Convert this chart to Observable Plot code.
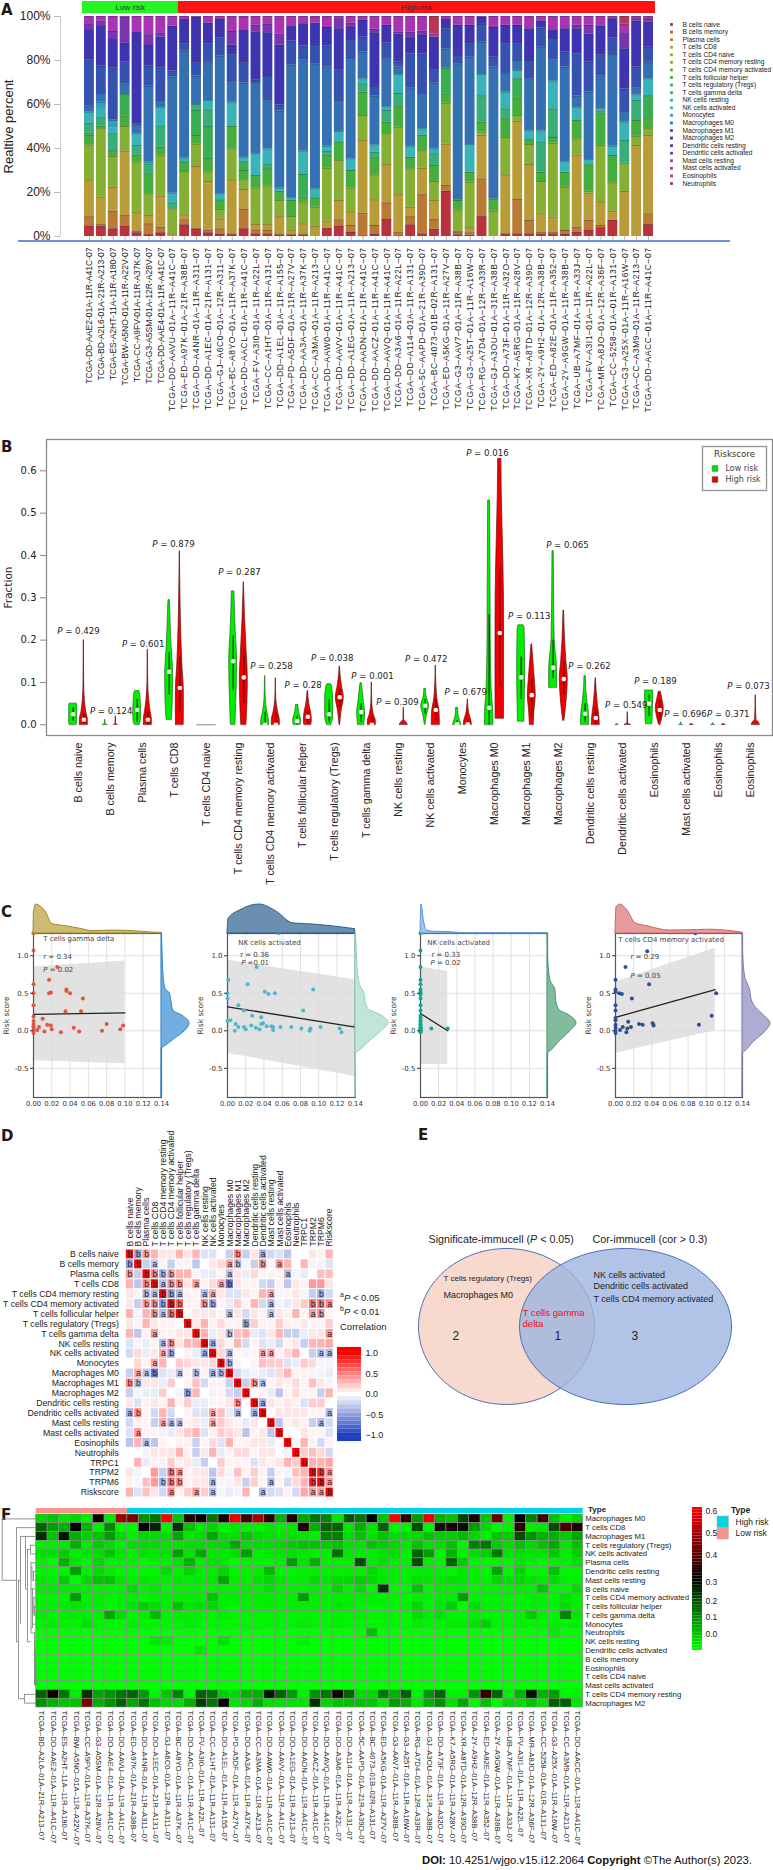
<!DOCTYPE html>
<html><head><meta charset="utf-8">
<script src="https://cdn.jsdelivr.net/npm/d3@7"></script>
<script src="https://cdn.jsdelivr.net/npm/@observablehq/plot@0.6"></script>
<style>
html,body{margin:0;padding:0;background:#fff}
#page{position:relative;width:773px;height:1870px;overflow:hidden;font-family:"Liberation Sans",Arial,sans-serif;color:#222}
#page svg{position:absolute;background:transparent;overflow:visible}
.note{position:absolute;white-space:nowrap}
.letter{position:absolute;font:bold 15px "DejaVu Sans",sans-serif;color:#231815}
</style></head><body><div id="page"></div>
<script>
const FONT='"Liberation Sans",Arial,sans-serif';
// ---------- shared categories
const immuneCells=["B cells naive","B cells memory","Plasma cells","T cells CD8","T cells CD4 naive","T cells CD4 memory resting","T cells CD4 memory activated","T cells follicular helper","T cells regulatory (Tregs)","T cells gamma delta","NK cells resting","NK cells activated","Monocytes","Macrophages M0","Macrophages M1","Macrophages M2","Dendritic cells resting","Dendritic cells activated","Mast cells resting","Mast cells activated","Eosinophils","Neutrophils"];
const cellColors=["#b8333b","#bf5a2e","#b97a35","#b89c38","#a5ab30","#86b034","#62b03a","#45ae3e","#3aae52","#3aae78","#38b19a","#38b3b8","#3a9cc2","#3570b2","#3552b0","#3e34b0","#5a36b0","#7a34b0","#a735b2","#b7359f","#b83578","#b83555"];
const barLabels=["TCGA-DD-AAE2-01A-11R-A41C-07","TCGA-BD-A2L6-01A-21R-A213-07","TCGA-ES-A2HT-11A-11R-A180-07","TCGA-BW-A5NO-01A-11R-A22V-07","TCGA-CC-A9FV-01A-11R-A37K-07","TCGA-G3-A5SM-01A-12R-A28V-07","TCGA-DD-AAE4-01A-11R-A41C-07","TCGA-DD-AAVU-01A-11R-A41C-07","TCGA-ED-A97K-01A-21R-A38B-07","TCGA-DD-A4NR-01A-11R-A311-07","TCGA-DD-A1EC-01A-21R-A131-07","TCGA-GJ-A6C0-01A-12R-A311-07","TCGA-BC-A8YO-01A-11R-A37K-07","TCGA-DD-AACL-01A-11R-A41C-07","TCGA-FV-A3I0-01A-11R-A22L-07","TCGA-CC-A1HT-01A-11R-A131-07","TCGA-DD-A1EL-01A-11R-A155-07","TCGA-PD-A5DF-01A-11R-A27V-07","TCGA-DD-AA3A-01A-11R-A37K-07","TCGA-CC-A3MA-01A-11R-A213-07","TCGA-DD-AAW0-01A-11R-A41C-07","TCGA-DD-AAVV-01A-11R-A41C-07","TCGA-DD-A1EG-01A-11R-A213-07","TCGA-DD-AADN-01A-11R-A41C-07","TCGA-DD-AACZ-01A-11R-A41C-07","TCGA-DD-AAVQ-01A-11R-A41C-07","TCGA-DD-A3A6-01A-11R-A22L-07","TCGA-DD-A114-01A-11R-A131-07","TCGA-5C-AAPD-01A-21R-A39D-07","TCGA-BC-4073-01B-02R-A131-07","TCGA-ED-A5KG-01A-11R-A27V-07","TCGA-G3-AAV7-01A-11R-A38B-07","TCGA-G3-A25T-01A-11R-A16W-07","TCGA-RG-A7D4-01A-12R-A33R-07","TCGA-GJ-A3OU-01A-31R-A38B-07","TCGA-DD-A73F-01A-11R-A32O-07","TCGA-K7-A5RG-01A-11R-A28V-07","TCGA-XR-A8TD-01A-12R-A39D-07","TCGA-2Y-A9H2-01A-12R-A38B-07","TCGA-ED-A82E-01A-11R-A352-07","TCGA-2Y-A9GW-01A-11R-A38B-07","TCGA-UB-A7MF-01A-11R-A33J-07","TCGA-FV-A3I1-01A-11R-A22L-07","TCGA-MR-A8JO-01A-12R-A36F-07","TCGA-CC-5258-01A-01R-A131-07","TCGA-G3-A25X-01A-11R-A16W-07","TCGA-CC-A3M9-01A-11R-A213-07","TCGA-DD-AACC-01A-11R-A41C-07"];
const riskGroupsA=[{name:"Low risk",from:0,to:8,fill:"#23f523"},{name:"High risk",from:8,to:48,fill:"#fb1414"}];
// Panel A: per bar, flat pairs of category index and cumulative top (percent)
const barTops=[
[0,4.8,2,9,3,25.8,5,41.6,7,46,8,47,9,51.5,11,56.5,13,59.2,14,80.3,15,94,17,96.7,18,100],
[0,4.5,2,5.4,3,17.9,5,49,7,50.2,9,54,11,58.5,12,61,13,65,14,77.4,15,95.8,17,98,18,100],
[0,3.5,2,11.5,3,22.4,5,36.4,7,39,9,46.7,11,50.4,12,52.8,13,53,14,76.5,15,89.5,17,93.2,18,100],
[0,4.8,2,9.5,3,38.8,5,50,7,54.8,8,64.5,13,69.4,14,79.4,15,88,17,99.7,18,100],
[0,1.7,2,2.5,3,10.8,5,33.8,7,37,9,41.4,11,46.7,13,50.8,14,51,15,93,18,100],
[0,.8,2,5.8,3,9.5,5,19.4,7,28.5,9,33,11,33.8,13,68.3,14,77.4,15,86.8,17,91.7,18,100],
[0,1.7,2,4.2,3,18.3,5,37,7,40.6,9,50.3,11,58.5,13,61.8,14,76.5,15,90.6,17,92.6,18,100],
[3,1.2,5,12.6,9,15.3,11,19.7,13,72.4,14,75.2,15,95.6,18,100],
[0,5.3,2,7.6,3,9.8,5,29.5,7,34,11,35.6,13,84.2,14,87.6,15,98.6,18,100],
[0,3.3,2,3.8,3,31.8,5,42,7,45.9,8,57.3,9,60,13,72.9,14,79,15,99.7,18,100],
[0,1.7,2,2.7,3,25,5,29.4,7,35.5,8,50,9,57.6,11,61.8,13,79.2,14,87.6,15,97,18,100],
[0,.9,2,3.5,3,8,5,12.3,7,16.7,11,19.4,13,82,14,90.3,15,98.6,18,99,19,100],
[0,.8,2,1.2,3,25.8,5,39.8,7,50,11,61,13,69.7,14,82.6,15,87,17,93.2,18,100],
[0,3.5,2,12.3,3,21.4,5,25.8,7,30,8,34,11,36,13,69.7,14,79,15,93.6,18,99.5,19,100],
[0,1.2,2,3,3,5.5,5,22,7,27.7,11,37.6,13,70,14,71,15,93,17,96,18,100],
[0,1.2,2,2.7,3,5.4,5,23,7,30.8,9,33,11,39.8,13,62.3,14,72.7,15,92.6,17,96.4,18,99,19,100],
[0,.5,2,1.2,3,9,5,16.4,7,20.6,11,22,13,57,14,59.8,15,87,17,92,18,100],
[0,.5,2,1.2,3,3,5,9.1,7,16.4,11,17.6,13,78,14,88.8,15,95.4,18,100],
[0,.5,2,1.2,3,5.8,5,15.6,7,17.9,8,28.2,11,38.8,13,80.3,14,86.5,15,96.7,18,100],
[3,4.5,5,13.3,7,17.6,11,21.7,13,78.5,14,87.3,15,97,18,99.5,19,100],
[0,3.6,3,7,5,31,7,37,9,38.6,11,41,13,77,14,86.5,15,95,18,100],
[0,4.8,2,7.6,3,16.4,5,34.5,7,43,11,47.7,13,61.8,14,75.8,15,94.4,17,99,18,100],
[0,1.8,2,5,3,11.2,5,22,7,30,11,35.3,13,80.3,14,89,15,95,17,97,18,100],
[0,.3,2,10.6,3,43.6,5,55,7,65.6,9,69.4,11,71.7,13,83.8,14,90.6,15,98.2,18,100],
[0,.9,2,5,3,16.7,5,28,7,35.8,9,38.3,11,41.7,13,63.8,14,68.2,15,92.6,17,94.2,18,100],
[0,7.7,2,15.3,3,32.7,5,46.7,7,52,9,57.3,11,59,13,80.8,14,88,15,96,18,100],
[0,.3,2,2,3,19,5,49.7,7,59,9,65,11,73.6,13,77,14,79.2,15,92,17,92.8,18,100],
[0,5.3,2,9,3,13.3,5,30.8,7,36,11,41,13,67.6,14,83,15,90,17,92.9,18,100],
[0,1.2,2,19,3,31,5,39,7,46,11,49,13,65,14,83,15,91.4,17,93.3,18,100],
[0,3.3,2,7.7,3,16.4,5,25,7,32.3,9,37.6,11,39.8,13,69.7,14,75.8,15,90.6,18,92,21,100],
[0,20.5,2,23.2,3,42,5,60.6,7,64.8,8,76.5,13,85.3,14,94.4,15,98.6,18,100],
[0,.8,2,2,3,2.3,5,12,7,16.4,11,16.7,13,78.5,14,82.3,15,96,18,100],
[0,.6,2,1.7,3,4,5,24.7,7,29.2,11,41.8,13,81.5,14,87.6,15,96,18,100],
[0,9,2,26.2,3,46,5,47.5,7,52,9,64,11,73.6,13,88.3,14,96.4,15,99.7,18,100],
[5,11.5,7,17,13,77,14,81.5,15,95,18,100],
[0,1.2,3,28,5,45,7,53.5,9,58,11,65.6,13,74,14,87.6,15,96,18,100],
[0,1.2,2,16.8,3,52.4,5,55,7,63,8,71.7,11,75.5,13,80,14,87.6,15,96,18,100],
[0,1.2,2,7.3,3,32.7,5,41.8,7,44,11,48,13,71.7,14,80,15,94.4,18,100],
[0,1.2,2,2,3,10.3,5,25,7,29.2,9,43,11,48,13,86,14,94.8,15,98,18,100],
[0,1.2,2,2,3,8.8,5,42.4,7,45,9,58,11,70.6,13,80.3,14,90,15,93.6,18,100],
[0,.9,2,2.7,3,3,5,22.4,7,29.2,11,34,13,77,14,83.8,15,94.4,18,100],
[0,2,2,4.2,3,37,5,44.4,7,52.7,11,58.5,13,63.8,14,83,15,94.4,17,96,18,100],
[0,2.7,2,7.3,3,19.7,5,20.6,7,32.6,11,35,13,65.6,14,79.2,15,92,17,96,18,100],
[0,4,2,5,3,15.8,5,41.4,7,55.8,9,57,11,58,13,73,14,82.6,15,95.5,18,100],
[0,7.3,3,11.5,5,24.4,7,36.8,11,41,13,82.7,14,90.3,15,99,18,100],
[3,20.5,5,33.3,9,43.6,11,52,13,56.8,14,67,15,85.3,17,92.6,18,96.5,21,100],
[3,41.4,5,45.5,7,52.7,9,61.8,11,64.4,13,67.6,14,77,15,97.9,17,99,18,100],
[0,5.4,2,10.3,3,46,5,49,7,53.5,8,64,11,71.7,13,79.2,14,86,15,97.4,17,99,18,100]];
// Panel B: categories, p labels and violin outlines [fraction, half width]
const violinLabels=["B cells naive","B cells memory","Plasma cells","T cells CD8","T cells CD4 naive","T cells CD4 memory resting","T cells CD4 memory activated","T cells follicular helper","T cells regulatory (Tregs)","T cells gamma delta","NK cells resting","NK cells activated","Monocytes","Macrophages M0","Macrophages M1","Macrophages M2","Dendritic cells resting","Dendritic cells activated","Eosinophils","Mast cells activated","Eosinophils","Eosinophils"];
const pLabels=[["P = 0.429",0,.22],["P = 0.124",1.02,.032],["P = 0.601",2.02,.191],["P = 0.879",2.97,.426],["P = 0.287",5.03,.36],["P = 0.258",6.03,.138],["P = 0.28",7.02,.093],["P = 0.038",7.93,.157],["P = 0.001",9.19,.115],["P = 0.309",9.97,.053],["P = 0.472",10.87,.155],["P = 0.679",12.1,.077],["P = 0.016",12.78,.642],["P = 0.113",14.09,.257],["P = 0.065",15.28,.424],["P = 0.262",15.97,.138],["P = 0.549",17.12,.046],["P = 0.189",18.03,.102],["P = 0.696",18.97,.024],["P = 0.371",20.31,.024],["P = 0.073",20.94,.092]];
const violinsLow=[
{c:0,med:.025,bar:[.008,.04],shape:[[0,.11],[.005,.125],[.045,.125],[.05,.11]]},
{c:1,med:null,bar:null,shape:[[0,.07],[.002,.012],[.012,.001]]},
{c:2,med:.035,bar:[.005,.06],shape:[[0,.08],[.01,.115],[.03,.125],[.05,.115],[.075,.09],[.08,.06]]},
{c:3,med:.125,bar:[.07,.17],shape:[[.012,.08],[.05,.11],[.12,.125],[.18,.08],[.23,.05],[.26,.04],[.295,.02]]},
{c:5,med:.15,bar:[.08,.21],shape:[[0,.07],[.05,.095],[.15,.125],[.22,.08],[.315,.04]]},
{c:6,med:0,bar:[0,.03],shape:[[0,.125],[.01,.12],[.03,.07],[.06,.02],[.115,.005]]},
{c:7,med:.009,bar:[0,.02],shape:[[0,.11],[.01,.125],[.03,.06],[.047,.04]]},
{c:8,med:.025,bar:[.005,.06],shape:[[0,.07],[.02,.125],[.06,.125],[.09,.09],[.096,.06]]},
{c:9,med:.03,bar:[.005,.05],shape:[[0,.1],[.03,.125],[.05,.09],[.08,.05],[.098,.02]]},
{c:11,med:.045,bar:[.025,.06],shape:[[0,.01],[.02,.05],[.045,.125],[.065,.05],[.085,.025]]},
{c:12,med:.001,bar:[0,.01],shape:[[0,.125],[.008,.1],[.02,.05],[.04,.03]]},
{c:13,med:.04,bar:[0,.26],shape:[[0,.135],[.03,.13],[.08,.08],[.2,.05],[.4,.04],[.53,.03]]},
{c:14,med:.112,bar:[.06,.16],shape:[[.008,.1],[.05,.11],[.12,.125],[.225,.11],[.235,.08]]},
{c:15,med:.135,bar:[.11,.2],shape:[[.088,.125],[.13,.125],[.2,.05],[.3,.03],[.41,.02]]},
{c:16,med:.026,bar:[.005,.05],shape:[[0,.125],[.02,.125],[.05,.08],[.09,.03],[.115,.02]]},
{c:17,med:null,bar:null,shape:[[0,.04],[.002,.008]]},
{c:18,med:.05,bar:[.02,.07],shape:[[.002,.1],[.03,.115],[.06,.125],[.081,.125]]},
{c:19,med:null,bar:null,shape:[[0,.05],[.002,.008],[.006,.001]]},
{c:20,med:null,bar:null,shape:[[0,.05],[.002,.008],[.004,.001]]}];
const violinsHigh=[
{c:0,med:.012,bar:[.002,.025],shape:[[0,.125],[.012,.125],[.03,.075],[.06,.03],[.1,.01],[.2,.001]]},
{c:1,med:null,bar:null,shape:[[0,.05],[.002,.01],[.02,.001]]},
{c:2,med:.012,bar:[0,.03],shape:[[0,.125],[.012,.125],[.03,.09],[.06,.04],[.1,.012],[.178,.001]]},
{c:3,med:.087,bar:[.03,.16],shape:[[0,.12],[.02,.125],[.08,.125],[.14,.08],[.2,.05],[.3,.02],[.41,.002]]},
{c:5,med:.112,bar:[.05,.18],shape:[[0,.08],[.05,.11],[.11,.125],[.17,.09],[.25,.04],[.337,.002]]},
{c:6,med:0,bar:[0,.03],shape:[[0,.125],[.01,.125],[.03,.07],[.06,.015],[.11,.001]]},
{c:7,med:.019,bar:[.002,.03],shape:[[0,.11],[.01,.125],[.03,.1],[.05,.045],[.08,.008]]},
{c:8,med:.065,bar:[.04,.085],shape:[[0,.01],[.03,.05],[.065,.125],[.09,.07],[.12,.02],[.138,.004]]},
{c:9,med:0,bar:[0,.02],shape:[[0,.125],[.008,.125],[.025,.06],[.05,.015],[.1,.002]]},
{c:10,med:null,bar:null,shape:[[0,.125],[.005,.09],[.012,.01],[.04,.002]]},
{c:11,med:.035,bar:[.01,.06],shape:[[0,.125],[.01,.125],[.035,.11],[.06,.05],[.09,.02],[.14,.002]]},
{c:12,med:.001,bar:[0,.012],shape:[[0,.125],[.01,.11],[.025,.05],[.06,.002]]},
{c:13,med:.217,bar:[.09,.37],shape:[[.015,.13],[.15,.135],[.3,.13],[.45,.09],[.55,.06],[.628,.05]]},
{c:14,med:.07,bar:[.02,.11],shape:[[0,.06],[.03,.08],[.07,.125],[.1,.1],[.15,.05],[.19,.01]]},
{c:15,med:.108,bar:[.07,.15],shape:[[.01,.02],[.05,.08],[.11,.125],[.15,.08],[.2,.04],[.27,.01]]},
{c:16,med:.016,bar:[0,.04],shape:[[0,.125],[.02,.11],[.05,.06],[.11,.005]]},
{c:17,med:null,bar:null,shape:[[0,.09],[.003,.012],[.03,.001]]},
{c:18,med:.035,bar:[.01,.06],shape:[[0,.02],[.02,.09],[.04,.125],[.06,.08],[.078,.03]]},
{c:19,med:null,bar:null,shape:[[0,.05],[.002,.008]]},
{c:20,med:null,bar:null,shape:[[0,.05],[.002,.008]]},
{c:21,med:null,bar:null,shape:[[0,.125],[.005,.1],[.012,.02],[.07,.002]]}];
const riskLegend=[["Low risk","#00e000"],["High risk","#e80000"]];
// Panel C
const zeroScores=[1.3,1.07,.85,.68,.62,.55,.52,.5,.48,.43,.34,.27,.2,.17,.14,.12,.09,.08,.05,.04,.03,.02,.01,0,-.01,-.02];
const scatterGamma=[[0,1.3],[0,1.07],[.026,.85],[.017,.68],[0,.62],[.036,.55],[.036,.53],[.04,.5],[.019,.51],[.017,.5],[0,.5],[.054,.43],[0,.34],[.035,.26],[.052,.26],[0,.19],[.01,.16],[0,.13],[.08,.09],[.015,.08],[.019,.07],[.006,.05],[.098,.07],[.044,.04],[.095,.02],[0,.09],[0,.06],[0,.03],[0,0],[.004,.01],[.012,-.01],[.02,.02],[.03,-.02],[.05,-.01],[.075,0],[0,-.03]];
const scatterNK=[[.056,1.3],[.032,.85],[.001,.68],[.022,.62],[0,.5],[.041,.52],[.045,.49],[.052,.5],[.094,.55],[0,.43],[.012,.34],[.083,.27],[.018,.27],[.027,.2],[.037,.18],[.003,.14],[0,.13],[.009,.09],[.039,.1],[.037,.09],[.026,.07],[.018,.05],[.012,.05],[.031,.04],[.043,.06],[.048,.06],[.05,.05],[.058,.05],[.07,.05],[.081,.03],[.091,.03],[.102,.05],[.123,.03],[.14,.08],[.008,0],[.02,.02],[.035,.02],[.05,.01],[.09,0],[.125,-.02]];
const scatterNK2=[...zeroScores.map(y=>[0,y]),[.012,.03],[.03,.03]];
const scatterCD4=[[.088,1.3],[.035,1.06],[.011,.85],[0,.68],[.037,.62],[0,.55],[0,.52],[.004,.5],[.007,.49],[.111,.5],[.018,.43],[0,.34],[0,.27],[.106,.2],[0,.17],[0,.14],[.014,.12],[.026,.09],[.03,.08],[.041,.1],[.042,.07],[.092,.08],[0,.08],[.008,.05],[.017,.05],[.013,.03],[0,.04],[0,0],[.005,.01],[.012,-.02],[0,-.03]];
const topGamma=[[0,0],[.0005,.75],[.003,1],[.008,.92],[.014,.72],[.02,.33],[.036,.25],[.05,.17],[.065,.08],[.085,.1],[.11,.08],[.13,.03],[.14,.02]];
const topNK=[[0,0],[.001,.5],[.014,.8],[.035,1],[.054,.75],[.072,.35],[.098,.3],[.14,.15]];
const topNK2=[[0,0],[.001,1],[.004,.4],[.007,.1],[.015,.06],[.03,.05],[.05,.01],[.14,.01]];
const topCD4=[[0,.03],[.001,.9],[.005,1],[.013,.8],[.022,.35],[.035,.25],[.06,.1],[.09,.12],[.105,.13],[.14,.03]];
const rightGamma=[[-.88,0],[-.24,.01],[-.22,.08],[-.1,.5],[0,.85],[.1,1],[.2,.75],[.27,.42],[.4,.35],[.5,.3],[.55,.15],[.7,.08],[.9,.05],[1.1,.03],[1.3,.01]];
const rightNK=[[-.88,0],[-.3,.01],[-.28,.08],[-.15,.4],[0,.8],[.1,1],[.22,.72],[.28,.4],[.4,.3],[.5,.27],[.6,.15],[.75,.08],[.95,.05],[1.15,.03],[1.3,.01]];
const rightNK2=[[-.88,0],[-.3,.01],[-.28,.08],[-.15,.4],[0,.8],[.1,1],[.2,.78],[.28,.4],[.4,.3],[.55,.27],[.65,.12],[.8,.05],[1,.02],[1.3,.01]];
const rightCD4=[[-.88,0],[-.3,.01],[-.28,.08],[-.15,.4],[0,.85],[.1,1],[.2,.78],[.3,.5],[.42,.32],[.55,.27],[.68,.12],[.85,.05],[1.05,.02],[1.3,.01]];
const scatterPanels=[
{points:scatterGamma,dot:"#e0553f",line:[[0,.22],[.1,.24]],ribbon:[[0,.85,-.4],[.1,.93,-.44]],top:topGamma,topFill:"#cdbb74",topStroke:"#9c8a2c",right:rightGamma,rightFill:"#73aee0",rightStroke:"#2d87d0",rightW:28,x0:33,x1:161,texts:[["T cells gamma delta",.0106,1.23],["r = 0.34",.0106,.99],["P = 0.02",.0106,.81]]},
{points:scatterNK,dot:"#4fb6cf",line:[[0,.32],[.14,.05]],ribbon:[[0,.94,-.3],[.14,.68,-.61]],top:topNK,topFill:"#6a8fb0",topStroke:"#2c5f8a",right:rightNK,rightFill:"#c0e6da",rightStroke:"#8fd0bd",rightW:33,x0:227.3,x1:355,texts:[["NK cells activated",.0117,1.18],["r = 0.36",.0139,1.01],["P =0.01",.015,.907]]},
{points:scatterNK2,dot:"#0fa88f",line:[[0,.23],[.03,0]],ribbon:[[0,.85,-.45],[.03,.79,-.45]],top:topNK2,topFill:"#9ec2ee",topStroke:"#5e93dc",right:rightNK2,rightFill:"#83bb9e",rightStroke:"#3f9c6f",rightW:29,x0:420,x1:547,texts:[["NK cells activated",.0074,1.18],["r = 0.33",.012,1.01],["P = 0.02",.011,.907]]},
{points:scatterCD4,dot:"#2f4f8f",line:[[0,.18],[.11,.55]],ribbon:[[0,.65,-.3],[.11,1.1,0]],top:topCD4,topFill:"#e59c9c",topStroke:"#d0605f",right:rightCD4,rightFill:"#aeacd2",rightStroke:"#7f7cb8",rightW:28,x0:615,x1:742,texts:[["T cells CD4 memory activated",.003,1.21],["r = 0.29",.0165,.99],["P = 0.05",.0165,.733]]}];
// Panel D
const corrLabels=["B cells naive","B cells memory","Plasma cells","T cells CD8","T cells CD4 memory resting","T cells CD4 memory activated","T cells follicular helper","T cells regulatory (Tregs)","T cells gamma delta","NK cells resting","NK cells activated","Monocytes","Macrophages M0","Macrophages M1","Macrophages M2","Dendritic cells resting","Dendritic cells activated","Mast cells resting","Mast cells activated","Eosinophils","Neutrophils","TRPC1","TRPM2","TRPM6","Riskscore"];
const corrRows=[
[1,-.5,.4,.3,.1,.1,.3,.1,.3,-.15,-.15,0,-.25,.45,-.25,.1,-.4,-.2,-.15,-.3,0,0,.1,.05,.3],
[-.5,1,-.25,-.3,.05,-.25,-.05,.05,-.3,0,.1,.15,.35,-.35,-.05,-.25,.45,.05,.4,.3,0,.3,-.05,-.05,-.15],
[.4,-.25,1,.5,-.4,.4,.3,.3,.05,-.1,-.1,.05,-.3,.1,-.1,.15,.05,.05,.05,-.35,-.05,-.1,0,.25,.25],
[.3,-.3,.5,1,-.35,.45,.45,.1,.4,.05,.15,.35,-.7,.1,.05,.05,-.2,-.25,.05,-.3,.1,.05,.4,.4,.1],
[.1,.05,-.4,-.35,1,-.5,-.35,.05,.05,-.35,.35,.1,-.15,-.15,.1,.05,.3,.35,-.05,.05,.1,-.05,-.25,-.4,-.2],
[.1,-.25,.4,.45,-.5,1,.6,.05,.05,.45,-.45,.05,-.1,.2,.05,.3,-.2,-.35,-.05,-.1,.1,.2,.55,.55,.45],
[.3,-.05,.3,.45,-.35,.6,1,0,.1,.1,.1,.05,-.35,.1,-.2,.1,.05,-.3,.1,.05,.3,.05,.4,.45,.05],
[.1,.05,.3,.1,.05,.05,0,1,.1,.3,.05,.15,.05,.05,-.5,.2,.05,.05,.2,.05,.05,.1,.05,.05,.2],
[.3,-.3,.05,.4,.05,.05,.1,.1,1,.3,-.1,.1,-.35,.25,.3,-.1,-.15,.1,.3,-.25,-.25,-.1,.1,.1,.4],
[-.15,-.05,-.1,.05,-.35,.45,.1,.3,.3,1,-.4,.15,.05,.3,-.2,.05,-.15,-.1,-.2,.05,.1,-.25,.3,.3,.35],
[-.2,.15,-.1,.1,.35,-.45,0,.05,-.1,-.4,1,.15,-.35,.05,-.05,.05,.35,.35,.05,.15,.3,0,-.25,-.35,-.35],
[0,.15,.05,.35,.3,0,.2,.15,.1,.1,.15,1,-.4,.05,0,.05,.25,.2,.2,-.15,-.1,.2,.15,-.05,-.05],
[-.25,.35,-.3,-.7,-.15,-.1,-.3,.05,-.35,.05,-.4,-.4,1,-.2,-.1,-.05,-.1,-.15,.15,.3,.05,.05,-.05,-.05,-.1],
[.45,-.35,.1,.1,-.1,.2,0,.05,.25,-.2,.05,.05,-.25,1,-.25,.45,-.3,.05,.1,.05,.15,.05,.25,.1,-.05],
[-.25,-.05,-.1,-.1,.2,0,-.05,-.5,.3,0,-.05,.05,-.2,-.25,1,0,.05,-.1,-.3,.05,.15,.05,.05,-.25,.3],
[.1,-.15,.05,.1,.05,.3,.05,.2,-.1,-.1,.05,.05,.1,.45,0,1,-.4,.1,.05,.1,.05,-.15,.2,.2,0],
[-.4,.45,.05,-.2,.3,-.2,0,.05,-.15,-.15,.35,.25,-.1,-.35,0,-.4,1,0,.1,.1,.1,.1,.05,.05,-.35],
[-.2,.05,.05,-.25,.35,-.35,-.3,.05,.1,-.1,.35,.2,.1,.05,-.1,.1,0,1,-.3,.05,.1,.05,-.25,-.35,-.2],
[-.15,.4,.05,.05,-.05,-.1,.1,.2,.3,-.15,.05,.2,.15,.1,-.3,.05,.1,-.3,1,0,0,.1,.05,.05,-.15],
[-.3,.3,-.35,-.3,.05,0,.05,.05,-.25,.05,.15,-.15,.3,.05,.05,.1,.1,-.1,0,1,-.05,.3,-.05,-.2,.05],
[0,0,-.05,.1,.1,.1,.3,.05,-.25,.1,.3,-.1,.05,.15,.15,.05,.1,.1,0,-.05,1,.2,.25,.15,-.2],
[0,.3,-.1,.05,-.05,.2,.05,.1,-.1,-.25,0,.2,.05,.05,.05,-.15,.1,.05,.1,.3,.2,1,.3,.3,.35],
[.1,-.05,0,.4,-.25,.55,.4,.05,.1,.1,-.3,.15,-.05,.25,.05,.2,.05,-.25,.05,-.05,.25,.3,1,.85,.4],
[.05,-.05,.25,.4,-.4,.55,.45,.05,.1,.1,-.35,-.05,-.05,.1,-.25,.2,.05,-.35,.05,-.2,.15,.3,.85,1,.4],
[.3,-.15,.25,.1,-.2,.45,.05,.2,.4,.2,-.35,-.05,-.1,-.05,.3,0,-.35,-.2,-.15,.05,-.2,.35,.4,.4,1]];
const corrSig=["0b 1b 2b 13b 16a","0b 1b 3a 12a 13b 16b 18a","0b 2b 3b 4b 5b 12a 19a","2b 3b 4a 5b 6b 8a 11a 12b","2b 3a 4b 5b 6a 9a 10a 17a 23b","2b 3b 4b 5b 6b 9b 10b 17a 22b 23b 24a","3b 4a 5b 6b 12a 17a 22a 23b","7b 14b","3a 8b 12b 24a","4a 5b 9b 10a","4a 5b 9a 10b 12a 16a 17a 23a 24a","3a 11b 12b","1a 2a 3b 6a 8b 10a 11b 12b","0b 1b 13b 15b 16a","7b 14b","13b 15b 16a","0a 1b 10a 13a 15a 16b 24a","4a 5a 6a 10a 17b 23a","1a 18b","2a 19b","20b","21b","5b 6a 22b 23b 24a","4b 5b 6b 10a 17a 22b 23b 24a","5a 8a 10a 16a 22a 23a 24b"];
const corrTicks=[1,.5,0,-.5,-1];
// Panel E
const vennSets=[{cx:106,cy:106,rx:88,ry:78,fill:"#f7d9cd",o:1},{cx:225,cy:106,rx:106,ry:78,fill:"#9db4e0",o:.8}];
const vennTexts=[["Significate-immucell (P < 0.05)",28,19,10.7,"#222"],["Cor-immucell (cor > 0.3)",192,19,10.7,"#222"],["T cells regulatory (Tregs)",43,58,8,"#222"],["Macrophages M0",43,75,9,"#222"],["T cells gamma",122,92,9.6,"#f01010"],["delta",122,103.5,9.6,"#f01010"],["2",52,116,12,"#222"],["1",154,116,12,"#222"],["3",231,116,12,"#222"],["NK cells activated",193,55,9,"#222"],["Dendritic cells activated",193,66,9,"#222"],["T cells CD4 memory activated",193,79,9,"#222"]];
// Panel F
const heatLabels=[barLabels[1],barLabels[0],...barLabels.slice(2)];
const heatM0=[.08,.1,.05,.08,.03,.32,.05,.48,.45,.15,.18,.6,.1,.35,.31,.18,.34,.58,.38,.5,.35,.12,.34,.13,.18,.16,.05,.21,.18,.3,.1,.6,.36,.14,.58,.12,.1,.23,.34,.1,.42,.03,.3,.17,.38,.1,.03,.08];
const heatCD8=[.2,.14,.12,.3,.12,.03,.16,.02,.02,.3,.26,.03,.25,.1,.05,.08,.02,.05,.03,.03,.05,.04,.05,.33,.12,.2,.2,.05,.12,.06,.2,.02,.03,.22,.02,.28,.33,.28,.14,.08,.01,.03,.35,.04,.05,.22,.38,.34];
const heatM1=[.25,.1,.28,.12,.09,.1,.14,.08,.03,.08,.07,.07,.13,.05,.07,.13,.07,.06,.1,.07,.06,.05,.06,.05,.03,.17,.17,.07,.1,.06,.1,.07,.07,.08,.1,.09,.09,.11,.08,.03,.1,.09,.22,.15,.12,.12,.09,.13];
const heatTregs=[.03,.04,.05,.12,.04,.09,.07,.03,.07,.07,.07,.06,.06,.07,.07,.07,.08,.13,.07,.07,.07,.08,.09,.1,.1,.09,.1,.06,.06,.1,.09,.08,.05,.1,.06,.07,.1,.02,.17,.18,.09,.07,.1,.08,.1,.13,.05,.1];
const heatNKa=[.07,.07,.09,.03,.06,.07,.1,.05,.03,.06,.05,.06,.14,.06,.13,.05,.05,.07,.14,.03,.05,.05,.07,.05,.03,.04,.19,.05,.04,.04,.06,.07,.03,.2,.14,.02,.12,.03,.07,.09,.18,.06,.07,.05,.06,.1,.03,.09];
const heatPlasma=[.03,.01,.12,.05,.02,.08,.03,.03,.03,.01,.03,.03,.06,.12,.03,.06,.05,.01,.03,.02,.02,.03,.14,.05,.12,.03,.03,.03,.22,.04,.06,.03,.03,.22,.03,.02,.2,.09,.02,.02,.02,.02,.05,.03,.02,.03,.03,.06];
const heatDCr=[.02,.02,.02,.14,.03,.07,.03,.02,.02,.02,.02,.07,.03,.08,.04,.04,.08,.02,.03,.03,.11,.02,.02,.03,.03,.03,.03,.03,.03,.07,.04,.04,.03,.03,.04,.03,.02,.05,.03,.02,.13,.02,.08,.02,.02,.1,.02,.02];
const heatMr=[.05,.04,.09,.01,.08,.1,.1,.06,.03,.05,.04,.03,.05,.03,.05,.05,.13,.03,.03,.06,.08,.05,.04,.03,.07,.05,.07,.08,.09,.08,.05,.03,.04,.06,.05,.05,.06,.05,.03,.03,.08,.06,.08,.06,.04,.07,.03,.03];
const heatBn=[.04,.05,.05,.05,.04,.03,.03,.03,.07,.03,.05,.02,.03,.03,.03,.03,.03,.03,.04,.03,.06,.03,.03,.03,.04,.03,.08,.03,.07,.02,.25,.02,.02,.1,.02,.04,.03,.04,.02,.03,.03,.03,.04,.03,.1,.02,.02,.07];
const heatCD4a=[.02,.02,.02,.14,.03,.03,.02,.03,.03,.02,.03,.03,.03,.03,.04,.1,.03,.03,.03,.03,.03,.03,.03,.14,.03,.03,.03,.03,.03,.03,.03,.02,.02,.03,.02,.03,.04,.14,.02,.02,.02,.02,.02,.03,.03,.02,.06,.03];
const heatTfh=[.03,.03,.04,.05,.04,.03,.02,.03,.06,.09,.07,.03,.1,.05,.07,.08,.03,.02,.03,.03,.03,.03,.03,.03,.03,.03,.05,.03,.02,.02,.02,.02,.03,.08,.02,.05,.09,.01,.07,.03,.03,.03,.03,.03,.02,.02,.07,.03];
const heatGd=[.04,.02,.03,.03,.03,.03,.13,.07,.02,.03,.11,.02,.03,.03,.03,.02,.03,.02,.02,.02,.02,.02,.02,.02,.02,.02,.03,.02,.03,.02,.02,.02,.02,.06,.04,.06,.02,.02,.03,.02,.02,.02,.03,.09,.03,.02,.16,.05];
const heatMono=[.02,.04,.02,.02,.06,.02,.02,.02,.03,.02,.02,.02,.02,.03,.02,.02,.02,.02,.02,.02,.02,.02,.02,.03,.02,.02,.03,.02,.02,.02,.02,.02,.02,.03,.02,.02,.03,.04,.06,.09,.02,.02,.03,.02,.02,.03,.02,.03];
const heatCD4r=[.2,.32,.18,.03,.25,.13,.15,.18,.2,.14,.02,.1,.17,.02,.2,.18,.09,.08,.12,.12,.28,.2,.14,.03,.15,.18,.33,.2,.07,.08,.18,.12,.2,.02,.15,.2,.03,.03,.15,.36,.2,.03,.12,.28,.12,.14,.02,.02];
const heatM2=[.15,.12,.1,.1,.45,.12,.15,.2,.13,.18,.1,.08,.07,.12,.24,.18,.3,.05,.08,.12,.06,.06,.06,.05,.25,.08,.1,.1,.1,.1,.05,.14,.12,.05,.12,.15,.06,.13,.01,.1,.01,.08,.07,.1,.06,.2,.2,.05];
// near-zero rows: column index and value of the few visible cells
const heatNeutroCells=[[29,.1],[45,.04]];
const heatNKrCells=[[10,.05],[11,.04],[16,.06],[23,.02]];
const heatDCaCells=[[14,.05]];
const heatRowList=[["Macrophages M0",heatM0],["T cells CD8",heatCD8],["Macrophages M1",heatM1],["T cells regulatory (Tregs)",heatTregs],["NK cells activated",heatNKa],["Plasma cells",heatPlasma],["Dendritic cells resting",heatDCr],["Mast cells resting",heatMr],["B cells naive",heatBn],["T cells CD4 memory activated",heatCD4a],["T cells follicular helper",heatTfh],["T cells gamma delta",heatGd],["Monocytes",heatMono],["Neutrophils",heatNeutroCells],["NK cells resting",heatNKrCells],["Dendritic cells activated",heatDCaCells],["B cells memory",[]],["Eosinophils",[]],["T cells CD4 naive",[]],["Mast cells activated",[]],["T cells CD4 memory resting",heatCD4r],["Macrophages M2",heatM2]];
// colour bar of panel F: position along the bar (0 bottom, 1 top) and printed tick labels
const heatBarSteps=[0,.02,.04,.06,.08,.1,.12,.14,.16,.18,.2,.22,.24,.26,.28,.3,.32,.34,.36,.38,.4,.42,.44,.46,.48,.5,.52,.54,.56,.58,.6,.62,.64,.66,.68,.7,.72,.74,.76,.78,.8,.82,.84,.86,.88,.9,.92,.94,.96,.98];
const heatBarTicks=[[.112,"0.0"],[.231,"0.1"],[.343,"0.2"],[.476,"0.3"],[.664,"0.4"],[.818,"0.5"],[.972,"0.6"]];
const corrBarValues=[1.1,1,.9,.8,.7,.6,.5,.4,.3,.2,.1,0,-.1,-.2,-.3,-.4,-.5,-.6,-.7,-.8,-.9,-1,-1.1];
const dendroV=[[1.7,0,7],[16,1,14],[18,7,20.5],[24,20,21],[20,2,12],[25,2,8],[27,3.5,14],[30,3,4],[30.5,5,13],[31.5,5.5,7],[33,6,7],[32,8,12.5],[33.3,9,11],[33.8,10,11],[34,13,19],[34.4,14,19],[34.8,15,19],[35.1,16,19],[35.3,17,19]];
const dendroH=[[0,1.7,35.7],[7,1.7,16],[1,16,35.7],[14,16,18],[7,18,20],[20.5,18,24],[20,24,35.7],[21,24,35.7],[2,20,25],[2,25,35.7],[8,25,27],[3.5,27,30],[3,30,35.7],[4,30,35.7],[14,27,30.5],[5,30.5,35.7],[13,30.5,34],[5.5,30.5,31.5],[7,31.5,33],[6,33,35.7],[7,33,35.7],[8,31,35.7],[12.5,31,32],[9,33.3,35.7],[10,33.8,35.7],[11,33.8,35.7],[12,32,35.7],[13,34,35.7],[14,34.4,35.7],[15,34.8,35.7],[16,35.1,35.7],[17,35.3,35.7],[18,35.4,35.7],[19,35.4,35.7]];
const typeLegend=[["High risk","#00d4e4"],["Low risk","#f8938c"]];

// ---------- page helpers
const page=document.getElementById("page");
function place(svg,left,top){svg.style.left=left+"px";svg.style.top=top+"px";page.appendChild(svg);return svg;}
function note(html,left,top,style=""){const d=document.createElement("div");d.className="note";d.style.cssText=`left:${left}px;top:${top}px;${style}`;d.innerHTML=html;page.appendChild(d);return d;}
function axisLabelSize(svg,px){svg.querySelectorAll('[aria-label="y-axis label"]').forEach(g=>{g.style.fontSize=px+"px";g.setAttribute("font-size",px);g.querySelectorAll("text").forEach(t=>t.style.fontSize=px+"px");});}
function italicP(svg){
  svg.querySelectorAll("text").forEach(t=>{
    const host=t.querySelector("tspan")&&t.children.length===1?t.querySelector("tspan"):t;
    const s=host.textContent;
    if(/^P ?=/.test(s)||s.startsWith("Significate")){
      const i=s.indexOf("P");host.textContent="";
      const NS="http://www.w3.org/2000/svg";
      if(i>0)host.appendChild(document.createTextNode(s.slice(0,i)));
      const it=document.createElementNS(NS,"tspan");it.setAttribute("font-style","italic");it.textContent="P";host.appendChild(it);
      host.appendChild(document.createTextNode(s.slice(i+1)));
    }
  });
}
[["A",1,1],["B",1,438],["C",1,903],["D",1,1127],["E",418,1126],["F",1,1506]].forEach(([t,x,y])=>{const d=document.createElement("div");d.className="letter";d.style.left=x+"px";d.style.top=y+"px";d.textContent=t;page.appendChild(d);});

// ---------- Panel A
const stackSegments=barTops.flatMap((pairs,b)=>{const out=[];let prev=0;for(let i=0;i<pairs.length;i+=2){out.push({bar:barLabels[b],cell:immuneCells[pairs[i]],y1:prev,y2:pairs[i+1]});prev=pairs[i+1];}return out;});
const cellScale={domain:immuneCells,range:cellColors};
const svgA=Plot.plot({width:668,height:420,marginLeft:60,marginRight:13,marginTop:16,marginBottom:184,style:{fontFamily:FONT,background:"transparent",color:"#222"},
  x:{domain:barLabels,range:[82,655],padding:.17,align:.5,round:false},y:{domain:[0,100]},color:cellScale,
  marks:[
    Plot.barY(stackSegments,{x:"bar",y1:"y1",y2:"y2",fill:"cell"}),
    Plot.tickY(stackSegments,{x:"bar",y:"y2",stroke:"#1a1a2a",strokeOpacity:.4,strokeWidth:.7}),
    Plot.axisY({ticks:[0,20,40,60,80,100],tickFormat:d=>d+"%",fontSize:12,tickSize:6,tickPadding:4,stroke:"#bbb",label:"Realtive percent",labelAnchor:"center",labelArrow:"none",labelOffset:57,color:"#222"}),
    Plot.axisX({tickRotate:-90,tickSize:5,tickPadding:6,fontSize:8.56,stroke:"#bbb",fill:"#222",label:null,tickFormat:(d,i)=>barLabels.indexOf(d)>=7?d.replace(/-/g,"\u2013"):d})
  ]});
place(svgA,0,0);axisLabelSize(svgA,13);
svgA.querySelectorAll("text").forEach(t=>{if(t.textContent.includes("\u2013"))t.setAttribute("letter-spacing",".55");});
note("",60,16,"width:1px;height:220px;background:#ccc");
note("",18,240,"width:712px;height:1.5px;background:#6f90d8");
place(Plot.plot({width:668,height:14,margin:0,x:{domain:[0,48],range:[82,655],axis:null},y:{axis:null,domain:[0,1],range:[13,1]},style:{fontFamily:FONT,background:"transparent"},
  marks:[Plot.rect(riskGroupsA,{x1:"from",x2:"to",y1:0,y2:1,fill:"fill"}),
         Plot.text(riskGroupsA,{x:d=>(d.from+d.to)/2,y:.5,text:"name",fontSize:8,fill:"#333"})]}),0,0);
place(Plot.plot({width:100,height:175,marginLeft:0,marginRight:0,marginTop:8,marginBottom:8,x:{domain:[0,1],axis:null},y:{domain:immuneCells,axis:null,type:"point",padding:0,round:false},color:cellScale,style:{fontFamily:FONT,background:"transparent",color:"#222"},
  marks:[Plot.dot(immuneCells,{y:d=>d,frameAnchor:"left",dx:6,symbol:"square",r:1.6,fill:d=>d}),
         Plot.text(immuneCells,{y:d=>d,text:d=>d,frameAnchor:"left",dx:17,textAnchor:"start",fontSize:6.67,fill:"#222"})]}),665,16);

// ---------- Panel B
const CX=(c,g)=>c+(g==="low"?-1:1)/6;
function violinPts(list,g){return list.flatMap(v=>v.shape.map(([y,w])=>({key:g+v.c,y,x1:CX(v.c,g)-w,x2:CX(v.c,g)+w,g})));}
const vPts=[...violinPts(violinsLow,"low"),...violinPts(violinsHigh,"high")];
const vBars=[...violinsLow.filter(v=>v.bar).map(v=>({x:CX(v.c,"low"),y1:v.bar[0],y2:v.bar[1]})),...violinsHigh.filter(v=>v.bar).map(v=>({x:CX(v.c,"high"),y1:v.bar[0],y2:v.bar[1]}))];
const vMeds=[...violinsLow.filter(v=>v.med!==null).map(v=>({x:CX(v.c,"low"),y:v.med})),...violinsHigh.filter(v=>v.med!==null).map(v=>({x:CX(v.c,"high"),y:v.med}))];
const naivePts=[{y:0,x1:3.7,x2:4.3}];
const svgB=Plot.plot({width:773,height:296+155,marginLeft:46,marginRight:1,marginTop:0,marginBottom:155,style:{fontFamily:FONT,background:"transparent",color:"#222"},
  x:{domain:[-1,21.69]},y:{domain:[-.0253,.674]},
  marks:[
    Plot.frame({stroke:"#8a8a8a",strokeWidth:1.3}),
    Plot.areaX(vPts.filter(d=>d.g==="low"),{y:"y",x1:"x1",x2:"x2",z:"key",fill:"#00ee00",stroke:"#1b6b1b",strokeWidth:.7,curve:"monotone-y"}),
    Plot.areaX(vPts.filter(d=>d.g==="high"),{y:"y",x1:"x1",x2:"x2",z:"key",fill:"#f00000",stroke:"#6b0b0b",strokeWidth:.7,curve:"monotone-y"}),
    Plot.ruleY(naivePts,{y:"y",x1:"x1",x2:"x2",stroke:"#888",strokeWidth:1}),
    Plot.ruleX(vBars,{x:"x",y1:"y1",y2:"y2",stroke:"#111",strokeWidth:1}),
    Plot.dot(vMeds,{x:"x",y:"y",r:2.3,fill:"#fff"}),
    Plot.text(pLabels,{x:d=>d[1],y:d=>d[2],text:d=>d[0],fontSize:8.6,fontFamily:'"DejaVu Sans"',fill:"#222"}),
    Plot.axisY({ticks:[0,.1,.2,.3,.4,.5,.6],tickFormat:".1f",fontSize:10,tickSize:6,tickPadding:4,stroke:"#888",fontFamily:'"DejaVu Sans"',label:"Fraction",labelAnchor:"center",labelArrow:"none",labelOffset:42}),
    Plot.axisX({ticks:violinLabels.map((_,i)=>i),tickFormat:i=>violinLabels[i],tickRotate:-90,tickSize:0,tickPadding:7,fontSize:10.7,label:null})
  ]});
place(svgB,0,439);italicP(svgB);axisLabelSize(svgB,10.5);
place(Plot.plot({width:64,height:44,margin:0,x:{domain:[0,1],axis:null},y:{domain:riskLegend.map(d=>d[0]),axis:null,range:[22,33],type:"point",padding:0,round:false},style:{fontFamily:'"DejaVu Sans"',background:"#fff",color:"#222"},
  marks:[Plot.frame({stroke:"#999",strokeWidth:1.4}),
    Plot.text(["Riskscore"],{frameAnchor:"top",dy:4,text:d=>d,fontSize:8.6,lineAnchor:"top",fill:"#333"}),
    Plot.dot(riskLegend,{y:d=>d[0],frameAnchor:"left",dx:12.5,symbol:"square",r:3.3,fill:d=>d[1],stroke:"#666",strokeWidth:.5}),
    Plot.text(riskLegend,{y:d=>d[0],text:d=>d[0],frameAnchor:"left",dx:23,textAnchor:"start",fontSize:8,fill:"#444"})]}),702,446);

// ---------- Panel C
const yDom=[-.889,1.297],boxTop=932.7,boxH=164;
const topH=29;
scatterPanels.forEach((p,i)=>{
  const gutter=33,w=p.x1-p.x0;
  const svg=Plot.plot({width:gutter+w+3,height:boxH+22,marginLeft:gutter,marginRight:3,marginTop:0,marginBottom:22,style:{fontFamily:'"DejaVu Sans"',background:"transparent",color:"#333"},
    x:{domain:[0,.14]},y:{domain:yDom},
    marks:[
      Plot.areaY(p.ribbon,{x:d=>d[0],y1:d=>d[1],y2:d=>d[2],fill:"#e2e2e2"}),
      Plot.gridX({ticks:[.02,.04,.06,.08,.1,.12],stroke:"#ddd",strokeOpacity:.9}),
      Plot.gridY({ticks:[-.5,0,.5,1],stroke:"#ddd",strokeOpacity:.9}),
      Plot.frame({stroke:"#555",strokeWidth:1.2}),
      Plot.line(p.line,{x:d=>d[0],y:d=>d[1],stroke:"#222",strokeWidth:1.3}),
      Plot.dot(p.points,{x:d=>d[0],y:d=>d[1],r:2,fill:p.dot}),
      Plot.text(p.texts,{x:d=>d[1],y:d=>d[2],text:d=>d[0],textAnchor:"start",fontSize:7,fill:"#444"}),
      Plot.axisY({ticks:[-.5,0,.5,1],tickFormat:d=>d===0?"0.0":d===1?"1.0":String(d).replace(/^(-?)0?\./,"$10."),fontSize:7,tickSize:3,tickPadding:2,label:"Risk score",labelAnchor:"center",labelArrow:"none",labelOffset:30}),
      Plot.axisX({ticks:[0,.02,.04,.06,.08,.1,.12,.14],tickFormat:".2f",fontSize:6.8,tickSize:0,tickPadding:4,label:null})
    ]});
  place(svg,p.x0-gutter,boxTop);italicP(svg);axisLabelSize(svg,7.5);
  place(Plot.plot({width:w,height:topH,margin:0,x:{domain:[0,.14],axis:null},y:{domain:[0,1],axis:null,range:[topH,0]},style:{background:"transparent"},
    marks:[Plot.areaY(p.top,{x:d=>d[0],y:d=>d[1],fill:p.topFill,stroke:p.topStroke,strokeWidth:1,curve:"monotone-x"})]}),p.x0,boxTop-topH);
  place(Plot.plot({width:p.rightW,height:boxH,margin:0,y:{domain:yDom,axis:null},x:{domain:[0,1],axis:null,range:[0,p.rightW]},style:{background:"transparent"},
    marks:[Plot.areaX(p.right,{y:d=>d[0],x:d=>d[1],fill:p.rightFill,stroke:p.rightStroke,strokeWidth:1,curve:"monotone-y"})]}),p.x1,boxTop);
});

// ---------- Panel D
const corrCells=corrRows.flatMap((r,i)=>r.map((v,j)=>({row:corrLabels[i],col:corrLabels[j],v})));
const corrMarks=corrSig.flatMap((s,i)=>s.split(" ").map(k=>({row:corrLabels[i],col:corrLabels[parseInt(k)],t:k.slice(-1)})));
const corrColor={type:"linear",domain:[-1,0,1],range:["#1f3fc0","#ffffff","#ff0000"]};
place(Plot.plot({width:336,height:129+248,marginLeft:125.3,marginRight:2.7,marginTop:129,marginBottom:0,style:{fontFamily:FONT,background:"transparent",color:"#222"},
  x:{domain:corrLabels,padding:0,axis:null,round:false},y:{domain:corrLabels,padding:0,axis:null,round:false},color:corrColor,
  marks:[
    Plot.cell(corrCells,{x:"col",y:"row",fill:"v",inset:.5}),
    Plot.text(corrMarks,{x:"col",y:"row",text:"t",fontSize:8.5,fill:"#222"}),
    Plot.axisX({anchor:"top",tickRotate:-90,tickSize:0,tickPadding:3,fontSize:8.7,label:null}),
    Plot.axisY({anchor:"left",tickSize:0,tickPadding:7,fontSize:8.7,label:null})
  ]}),0,1120);
note("<sup style='font-size:7px'>a</sup><i>P</i> &lt; 0.05",340,1291,"font-size:9.5px");
note("<sup style='font-size:7px'>b</sup><i>P</i> &lt; 0.01",340,1305,"font-size:9.5px");
note("Correlation",340,1321,"font-size:9.5px");
place(Plot.plot({width:44,height:90,marginLeft:0,marginRight:20,marginTop:0,marginBottom:0,x:{domain:[0,1],axis:null},y:{domain:[-1.1,1.1],range:[90,0]},color:{...corrColor,clamp:true},style:{fontFamily:FONT,background:"transparent",color:"#222"},
  marks:[Plot.rectY(corrBarValues,{x1:0,x2:1,y1:d=>d-.05,y2:d=>d+.05,fill:d=>d}),
         Plot.axisY({anchor:"right",ticks:corrTicks,tickFormat:".1f",tickSize:0,tickPadding:4,fontSize:9,label:null})]}),337,1349);

// ---------- Panel E
const ellipsePts=vennSets.flatMap((s,k)=>d3.range(0,361,3).map(a=>({k,x:s.cx+s.rx*Math.cos(a*Math.PI/180),y:s.cy+s.ry*Math.sin(a*Math.PI/180)})));
const svgE=Plot.plot({width:373,height:200,margin:0,x:{domain:[0,373],axis:null},y:{domain:[0,200],range:[0,200],axis:null},style:{fontFamily:FONT,background:"transparent"},
  marks:[
    Plot.line(ellipsePts.filter(d=>d.k===0),{x:"x",y:"y",fill:vennSets[0].fill,stroke:"#4a6fb8",strokeWidth:1}),
    Plot.line(ellipsePts.filter(d=>d.k===1),{x:"x",y:"y",fill:vennSets[1].fill,fillOpacity:vennSets[1].o,stroke:"#4a6fb8",strokeWidth:1}),
    Plot.text(vennTexts,{x:d=>d[1],y:d=>d[2],text:d=>d[0],fontSize:d=>d[3],fill:d=>d[4],textAnchor:"start"})
  ]});
place(svgE,400,1220);italicP(svgE);

// ---------- Panel F
const heatCells=heatRowList.flatMap(([name,vals])=>{
  const sparse=vals.length>0&&Array.isArray(vals[0]);
  const m=new Map(sparse?vals:[]);
  return heatLabels.map((id,j)=>({row:name,col:id,v:sparse||vals.length===0?(m.get(j)||0):vals[j]}));
});
const heatColor={type:"linear",domain:[0,.08,.3,.6],range:["#00ff00","#00d800","#000000","#ff0000"],clamp:true};
const rowNames=heatRowList.map(d=>d[0]);
const svgF=Plot.plot({width:700,height:193+145,marginLeft:35.7,marginRight:700-582.7,marginTop:0,marginBottom:145,style:{fontFamily:FONT,background:"transparent",color:"#222"},
  x:{domain:heatLabels,padding:0,axis:null,round:false},y:{domain:rowNames,padding:0,axis:null,round:false},color:heatColor,
  marks:[
    Plot.cell(heatCells,{x:"col",y:"row",fill:"v",stroke:"#8a8a8a",strokeWidth:.6}),
    Plot.axisY({anchor:"right",tickSize:0,tickPadding:2,fontSize:7.8,label:null}),
    Plot.axisX({anchor:"bottom",tickRotate:90,tickSize:0,tickPadding:3,fontSize:7.7,tickFormat:d=>d.replace(/-/g,"\u2013"),label:null})
  ]});
place(svgF,0,1514.3);
place(Plot.plot({width:36,height:193,margin:0,x:{domain:[0,35.7],range:[0,35.7],axis:null},y:{domain:[-.5,21.5],range:[0,193],axis:null},style:{background:"transparent"},
  marks:[Plot.ruleX(dendroV,{x:d=>d[0],y1:d=>d[1],y2:d=>d[2],stroke:"#888",strokeWidth:.9}),
         Plot.ruleY(dendroH,{y:d=>d[0],x1:d=>d[1],x2:d=>d[2],stroke:"#888",strokeWidth:.9})]}),0,1514.3);
const annot=[{t:"Low risk",from:0,to:8},{t:"High risk",from:8,to:48}];
place(Plot.plot({width:640,height:5,margin:0,x:{domain:[0,48],range:[35.7,582.7],axis:null},y:{axis:null,domain:[0,1]},style:{background:"transparent",fontFamily:FONT},
  marks:[Plot.rect(annot,{x1:"from",x2:"to",y1:0,y2:1,fill:d=>d.t==="Low risk"?"#f8938c":"#00d4e4"})]}),0,1507.6);
note("<b>Type</b>",588,1505,"font-size:8px");
note("<b>Type</b>",731,1505,"font-size:8.5px");
place(Plot.plot({width:60,height:23,margin:0,x:{domain:[0,1],range:[0,60],axis:null},y:{domain:typeLegend.map(d=>d[0]),axis:null,padding:0,round:false},style:{fontFamily:FONT,background:"transparent",color:"#222"},
  marks:[Plot.barX(typeLegend,{y:d=>d[0],x1:0,x2:.19,fill:d=>d[1],stroke:"#aaa",strokeWidth:.5}),
         Plot.text(typeLegend,{y:d=>d[0],text:d=>d[0],frameAnchor:"left",dx:18,textAnchor:"start",fontSize:8.5,fill:"#222"})]}),717,1516);
place(Plot.plot({width:36,height:143,marginLeft:0,marginRight:26,marginTop:0,marginBottom:0,x:{domain:[0,1],axis:null},
  y:{domain:[0,1],axis:null},color:{type:"linear",domain:[0,.5,1],range:["#00ff00","#000000","#ff0000"]},style:{fontFamily:FONT,background:"transparent",color:"#222"},
  marks:[Plot.rectY(heatBarSteps,{x1:0,x2:1,y1:d=>d,y2:d=>d+.02,fill:d=>d+.01}),
         Plot.axisY({anchor:"right",ticks:heatBarTicks.map(d=>d[0]),tickFormat:v=>heatBarTicks.find(d=>d[0]===v)[1],tickSize:0,tickPadding:3,fontSize:8.5,label:null})]}),692,1507);

// DOI line
note("<b>DOI:</b> 10.4251/wjgo.v15.i12.2064 <b>Copyright</b> \u00a9The Author(s) 2023.",422,1854,"font-size:11.3px;color:#111");
</script></body></html>
